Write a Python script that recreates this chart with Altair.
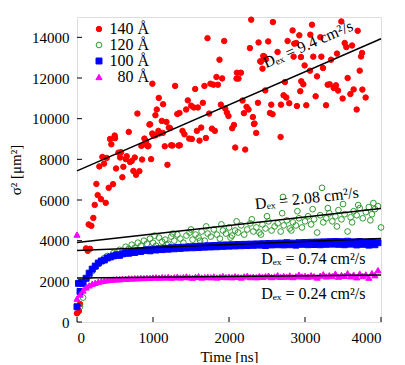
import altair as alt
import pandas as pd

series_names = ["140 Å", "120 Å", "100 Å", "80 Å"]
series_stroke = ["#ff0000", "#2e9a2e", "#0000ff", "#ff00ff"]
series_fill = ["#ff0000", "transparent", "#0000ff", "#ff00ff"]
series_shape = ["circle", "circle", "square", "triangle-up"]
series_size = [30, 38, 26, 20]

# 140 Å (red filled circles)
t140 = [0, 26, 40, 119, 141, 171, 154, 189, 215, 233, 255, 272, 316, 378, 417, 474,
        294, 356, 334, 391, 435, 496, 452, 514, 545, 567, 580, 610, 597, 641, 654, 681,
        698, 720, 742, 760, 777, 821, 847, 856, 892, 909, 940, 962, 975, 1006, 1084, 1116,
        1155, 1190, 1208, 1238, 1256, 1335, 1225, 1388, 1414, 1476, 1511, 1353, 1577, 1634,
        1612, 1696, 1775, 1814, 2042, 2065, 2082, 2213, 2336, 2358, 2679, 1291, 1348, 1320,
        1436, 1458, 1502, 1537, 1590, 1555, 1656, 1677, 1756, 1796, 1854, 1835, 1910, 1717,
        1937, 1875, 1739, 1893, 1950, 1972, 1993, 2104, 2125, 2157, 2099, 2178, 2196, 2231,
        2257, 2314, 2328, 2275, 2292, 2389, 2516, 2578, 2451, 2486, 2420, 2441, 2381, 2477,
        2556, 2573, 2539, 2718, 2684, 2837, 2771, 2859, 2885, 3092, 3070, 3202, 3478, 3693,
        3522, 3544, 3619, 2850, 2947, 3109, 3215, 3343, 3421, 3751, 3738, 2995, 3066, 3237,
        3158, 3720, 3561, 2736, 2951, 2978, 3298, 3325, 3377, 3408, 3435, 3640, 3755, 3495,
        3597, 3798, 2754, 2793, 2894, 3017, 3140, 3277, 3680, 2938, 992, 1076, 1133, 1050,
        1032, 795, 1129, 1071, 990, 953, 1032, 887, 905, 931, 500, 2925, 2411, 2464, 2639, 1177]
v140 = [427, 540, 880, 3620, 3500, 3600, 4800, 4730, 5120, 5760, 6790, 6240, 6040, 5860, 6600, 6780,
        7650, 7790, 8120, 8070, 9000, 9170, 8740, 7550, 8330, 8090, 8350, 7630, 7120, 8010, 8150, 9350,
        7870, 7920, 7430, 8090, 7240, 7420, 8660, 7990, 8740, 8890, 8660, 9720, 8010, 9170, 9270, 9890,
        8640, 7730, 9560, 8690, 8680, 8680, 9530, 9400, 9230, 9020, 9000, 8690, 9400, 9560,
        8920, 9050, 9510, 9400, 9530, 9690, 8580, 8480, 9760, 9300, 9100, 11610, 10280, 10230,
        10450, 10900, 10640, 10550, 10550, 11460, 10780, 11610, 11720, 11670, 11670, 12050, 11980, 13960,
        13820, 12900, 10250, 10690, 10500, 10300, 10130, 12260, 11970, 12260, 11970, 10890, 10270, 10580,
        10450, 10080, 9740, 13470, 14870, 13750, 13800, 14750, 13080, 12920, 12800, 12460, 10780, 11390,
        10690, 10220, 10280, 11150, 10690, 14340, 13820, 13690, 13720, 14620, 14130, 14010, 14780, 14320,
        13720, 13520, 13600, 13050, 13030, 13050, 13050, 12900, 13200, 13230, 13060, 12620, 12360, 12490,
        12080, 12360, 12000, 11800, 11840, 11690, 11670, 11690, 11510, 11640, 11380, 11440, 11430, 10990,
        11210, 11040, 11040, 10760, 10620, 10660, 11100, 10660, 10450, 11350, 11720, 11020, 10710, 10450,
        10170, 10250, 9300, 9400, 9270, 9710, 9180, 9020, 8860, 8640, 9040, 14100, 12820, 13060, 13280, 9840]

# 120 Å (green open circles)
t120 = [40, 80, 120, 160, 200, 240, 280, 320, 360, 400, 440, 480, 520, 560, 600, 640, 680, 720, 760, 800,
        840, 880, 920, 960, 1000, 1040, 1080, 1120, 1160, 1200, 1240, 1280, 1320, 1360, 1400, 1440, 1480,
        1520, 1560, 1600, 1640, 1680, 1720, 1760, 1800, 1840, 1880, 1920, 1960, 2000, 2040, 2080, 2120,
        2160, 2200, 2240, 2280, 2320, 2360, 2400, 2440, 2480, 2520, 2560, 2600, 2640, 2680, 2720, 2760,
        2800, 2840, 2880, 2920, 2960, 3000, 3040, 3080, 3120, 3160, 3200, 3240, 3280, 3320, 3360, 3400,
        3440, 3480, 3520, 3560, 3600, 3640, 3680, 3720, 3760, 3800, 3840, 3880, 3920, 3960, 4000,
        1020, 1260, 1500, 1700, 1900, 2100, 2300, 2500, 2700, 2710, 2900, 3100, 3224, 3300, 3500, 3700,
        3900, 1180, 1620, 2020, 2420, 2820, 3420, 3620, 3860]
v120 = [750, 1200, 1700, 2250, 2500, 2700, 2850, 3000, 3150, 3250, 3200, 3400, 3350, 3550, 3500, 3700,
        3600, 3800, 3650, 3900, 3750, 4000, 3850, 4100, 3900, 3750, 4150, 3950, 4050, 3850, 4200, 4000,
        4300, 4100, 3900, 4250, 4400, 4050, 4300, 4150, 4450, 4000, 4350, 4200, 4550, 4300, 4100, 4500,
        4350, 4650, 4250, 4500, 4400, 4750, 4300, 4550, 4850, 4450, 4650, 4400, 4800, 4600, 4950, 4500,
        4700, 4850, 4450, 4750, 5000, 4600, 4900, 4750, 5100, 4650, 4950, 5200, 4800, 5050, 4400, 5250,
        4900, 5100, 5350, 4950, 5200, 5500, 5050, 5300, 4450, 5150, 5450, 5250, 5600, 5100, 5400, 5650,
        5300, 5550, 5700, 4650,
        4250, 4350, 4550, 4700, 4800, 4950, 5050, 5200, 5350, 6150, 5450, 5550, 6600, 5600, 5800, 5750,
        5850, 3800, 4000, 4150, 4300, 4500, 4700, 4900, 5000]

# 100 Å (blue squares)
t100 = [0, 40, 80, 120, 160, 200, 240, 280, 320, 360, 400, 440, 480, 520, 560, 600, 640, 680, 720, 760,
        800, 840, 880, 920, 960, 1000, 1040, 1080, 1120, 1160, 1200, 1240, 1280, 1320, 1360, 1400, 1440,
        1480, 1520, 1560, 1600, 1640, 1680, 1720, 1760, 1800, 1840, 1880, 1920, 1960, 2000, 2040, 2080,
        2120, 2160, 2200, 2240, 2280, 2320, 2360, 2400, 2440, 2480, 2520, 2560, 2600, 2640, 2680, 2720,
        2760, 2800, 2840, 2880, 2920, 2960, 3000, 3040, 3080, 3120, 3160, 3200, 3240, 3280, 3320, 3360,
        3400, 3440, 3480, 3520, 3560, 3600, 3640, 3680, 3720, 3760, 3800, 3840, 3880, 3920, 3960, 20, 60]
v100 = [750, 1500, 1900, 2150, 2400, 2600, 2750, 2900, 3000, 3050, 3150, 3200, 3250, 3300, 3280, 3350,
        3400, 3380, 3450, 3420, 3500, 3470, 3520, 3550, 3500, 3580, 3540, 3600, 3560, 3620, 3580, 3650,
        3600, 3670, 3620, 3680, 3640, 3700, 3650, 3720, 3660, 3730, 3680, 3750, 3690, 3760, 3700, 3780,
        3720, 3790, 3730, 3800, 3740, 3810, 3750, 3820, 3760, 3830, 3770, 3840, 3780, 3850, 3760, 3860,
        3790, 3870, 3800, 3880, 3790, 3900, 3800, 3880, 3780, 3900, 3820, 3910, 3800, 3920, 3810, 3930,
        3800, 3940, 3820, 3950, 3830, 3960, 3820, 3950, 3800, 3970, 3830, 3940, 3790, 3960, 3820, 3930,
        3780, 3950, 3800, 3900, 1900, 1950]

# 80 Å (magenta triangles)
t80 = [0, 0, 40, 80, 120, 160, 200, 240, 280, 320, 360, 400, 440, 480, 520, 560, 600, 640, 680, 720,
       760, 800, 840, 880, 920, 960, 1000, 1040, 1080, 1120, 1160, 1200, 1240, 1280, 1320, 1360, 1400,
       1440, 1480, 1520, 1560, 1600, 1640, 1680, 1720, 1760, 1800, 1840, 1880, 1920, 1960, 2000, 2040,
       2080, 2120, 2160, 2200, 2240, 2280, 2320, 2360, 2400, 2440, 2480, 2520, 2560, 2600, 2640, 2680,
       2720, 2760, 2800, 2840, 2880, 2920, 2960, 3000, 3040, 3080, 3120, 3160, 3200, 3240, 3280, 3320,
       3360, 3400, 3440, 3480, 3520, 3560, 3600, 3640, 3680, 3720, 3760, 3800, 3840, 3880, 3920, 3960]
v80 = [4300, 1150, 1350, 1550, 1700, 1800, 1880, 1930, 1980, 2010, 2040, 2060, 2080, 2090, 2110, 2100,
       2130, 2120, 2150, 2140, 2160, 2150, 2170, 2160, 2180, 2170, 2190, 2200, 2180, 2210, 2190, 2220,
       2180, 2200, 2230, 2190, 2210, 2240, 2200, 2180, 2220, 2250, 2190, 2210, 2230, 2200, 2240, 2190,
       2220, 2260, 2210, 2230, 2200, 2250, 2220, 2190, 2240, 2270, 2210, 2230, 2200, 2260, 2220, 2250,
       2280, 2210, 2240, 2300, 2220, 2260, 2230, 2290, 2210, 2250, 2330, 2240, 2270, 2230, 2300, 2250,
       2190, 2280, 2350, 2240, 2300, 2260, 2380, 2230, 2310, 2270, 2400, 2250, 2330, 2200, 2380, 2260,
       2340, 2180, 2400, 2300, 2550]

# linear fits
fit_t = [0, 4000]
fit140 = [7430, 13930]
fit120 = [3915, 5585]
fit100 = [3520, 4110]
fit80 = [2160, 2310]

# annotations
ann_text = ["Dₑₓ = 9.4 cm²/s", "Dₑₓ = 2.08 cm²/s", "Dₑₓ = 0.74 cm²/s", "Dₑₓ = 0.24 cm²/s"]
ann_t = [3040, 3024, 3110, 3110]
ann_v = [13650, 6080, 3120, 1370]
ann_angle = [336.4, 353.6, 0, 0]

x_ticks = [0, 1000, 2000, 3000, 4000]
y_ticks = [0, 2000, 4000, 6000, 8000, 10000, 12000, 14000]

FONT = "Liberation Serif"

rows = []
for name, ts, vs in zip(series_names, [t140, t120, t100, t80], [v140, v120, v100, v80]):
    for t, v in zip(ts, vs):
        rows.append({"series": name, "t": t, "v": v})
pts = pd.DataFrame(rows)

frows = []
for name, fv in zip(series_names, [fit140, fit120, fit100, fit80]):
    for t, v in zip(fit_t, fv):
        frows.append({"series": name, "t": t, "v": v})
fits = pd.DataFrame(frows)

ann = pd.DataFrame({"text": ann_text, "t": ann_t, "v": ann_v, "angle": ann_angle})

xs = alt.Scale(domain=[0, 4000], nice=False, zero=False)
ys = alt.Scale(domain=[0, 15000], nice=False, zero=False)

leg = alt.Legend(title=None, orient="none", legendX=14, legendY=4, labelFont=FONT,
                 labelFontSize=16, labelColor="black", labelAlign="right", labelOffset=42,
                 rowPadding=-2, padding=0, symbolStrokeWidth=1)

xaxis = alt.Axis(values=x_ticks, format="d", title="Time [ns]", labelFont=FONT, labelFontSize=15,
                 titleFont=FONT, titleFontSize=15, titleFontWeight="normal", ticks=False,
                 domain=False, grid=False, labelPadding=8, titlePadding=4,
                 labelColor="black", titleColor="black")
yaxis = alt.Axis(values=y_ticks, format="d", title="σ² [μm²]", labelFont=FONT, labelFontSize=15,
                 titleFont=FONT, titleFontSize=15, titleFontWeight="normal", ticks=False,
                 domain=False, grid=False, labelPadding=8, titlePadding=8,
                 labelColor="black", titleColor="black")

points = alt.Chart(pts).mark_point(opacity=1, strokeWidth=1, fillOpacity=1).encode(
    x=alt.X("t:Q", scale=xs, axis=xaxis),
    y=alt.Y("v:Q", scale=ys, axis=yaxis),
    shape=alt.Shape("series:N", scale=alt.Scale(domain=series_names, range=series_shape), legend=leg),
    stroke=alt.Stroke("series:N", scale=alt.Scale(domain=series_names, range=series_stroke), legend=leg),
    fill=alt.Fill("series:N", scale=alt.Scale(domain=series_names, range=series_fill), legend=leg),
    size=alt.Size("series:N", scale=alt.Scale(domain=series_names, range=series_size), legend=leg),
    order=alt.Order("ord:Q"),
).transform_calculate(ord="indexof(['140 Å','120 Å','100 Å','80 Å'], datum.series)")

lines = alt.Chart(fits).mark_line(color="black", strokeWidth=1.5).encode(
    x=alt.X("t:Q", scale=xs),
    y=alt.Y("v:Q", scale=ys),
    detail="series:N",
)

texts = alt.Chart(ann).mark_text(font=FONT, fontSize=16, color="black", align="center",
                                 baseline="middle").encode(
    x=alt.X("t:Q", scale=xs),
    y=alt.Y("v:Q", scale=ys),
    text="text:N",
    angle=alt.Angle("angle:Q", scale=None),
)

xt = alt.Chart(pd.DataFrame({"t": x_ticks})).mark_rule(color="black", strokeWidth=1).encode(
    x=alt.X("t:Q", scale=xs), y=alt.value(305), y2=alt.value(300))
yt = alt.Chart(pd.DataFrame({"v": y_ticks})).mark_rule(color="black", strokeWidth=1).encode(
    y=alt.Y("v:Q", scale=ys), x=alt.value(0), x2=alt.value(5))

chart = alt.layer(points, lines, texts, xt, yt).properties(
    width=304, height=305,
    autosize=alt.AutoSizeParams(type="none"),
    padding={"left": 69, "top": 9, "right": 16, "bottom": 41},
).configure_view(stroke="black", strokeWidth=1.2).configure(background="white")

chart.save("out.html", embed_options={"renderer": "svg", "actions": False})
